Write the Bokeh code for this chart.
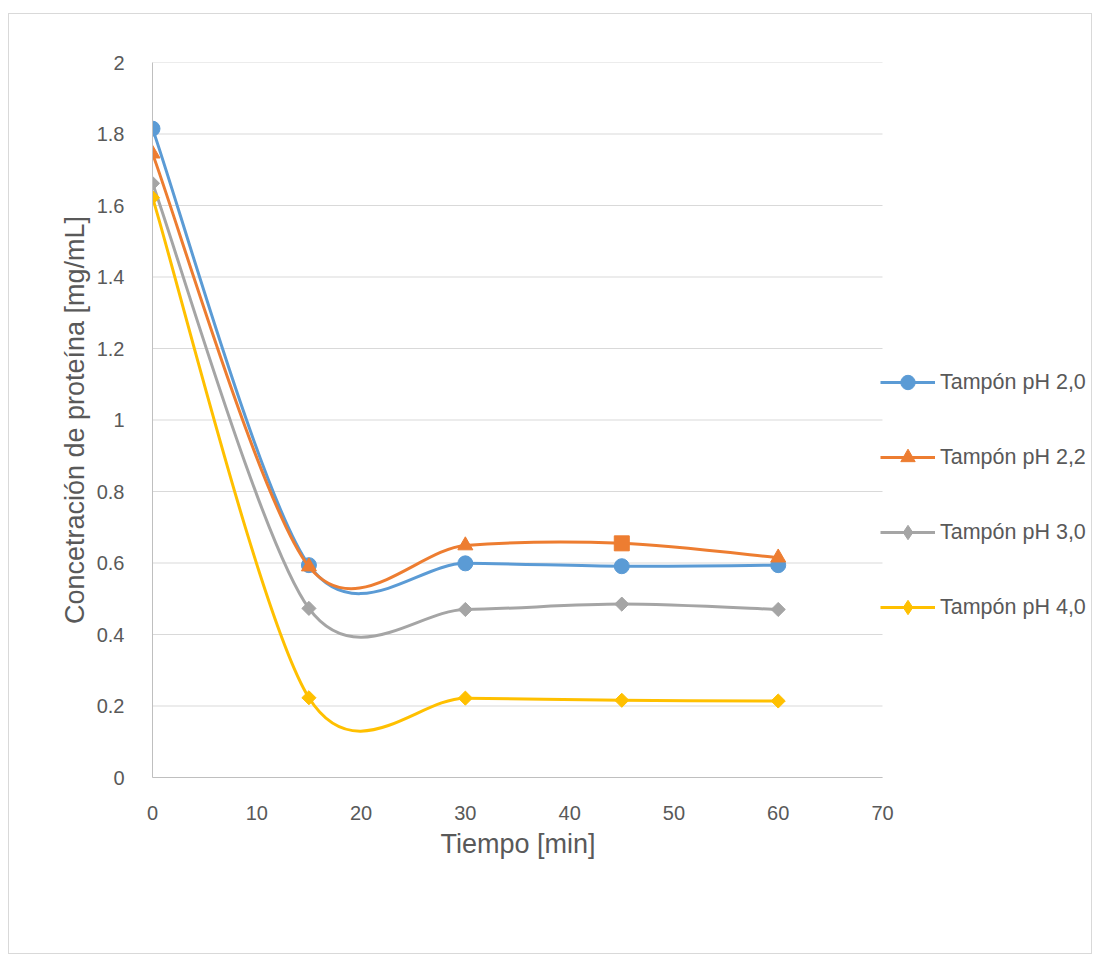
import numpy as np
from bokeh.plotting import figure
from bokeh.models import Range1d, FixedTicker, Legend, LegendItem, Title
from bokeh.embed import file_html
from bokeh.resources import INLINE

# ---- data ----
tiempo = [0, 15, 30, 45, 60]
ph20 = [1.815, 0.594, 0.599, 0.591, 0.594]
ph22 = [1.745, 0.590, 0.649, 0.655, 0.615]
ph30 = [1.662, 0.473, 0.470, 0.485, 0.470]
ph40 = [1.622, 0.223, 0.222, 0.216, 0.214]
series_names = ["Tampón pH 2,0", "Tampón pH 2,2", "Tampón pH 3,0", "Tampón pH 4,0"]
x_ticks = [0, 10, 20, 30, 40, 50, 60, 70]
y_ticks = [0, 0.2, 0.4, 0.6, 0.8, 1.0, 1.2, 1.4, 1.6, 1.8, 2.0]
y_tick_labels = ["0", "0.2", "0.4", "0.6", "0.8", "1", "1.2", "1.4", "1.6", "1.8", "2"]
x_title = "Tiempo [min]"
y_title = "Concetración de proteína [mg/mL]"

# ---- style ----
colors = ["#5B9BD5", "#ED7D31", "#A5A5A5", "#FFC000"]
markers = [
    ["circle"] * 5,
    ["triangle", "triangle", "triangle", "square", "triangle"],
    ["square"] * 5,
    ["square"] * 5,
]
marker_sizes = [15, 15, 10, 10]
marker_angles = [0, 0, np.pi / 4, np.pi / 4]
SMOOTH = 0.15
FONT = "Liberation Sans"
TEXT = "#595959"

# layout in pixels (inside the 1px outer border)
FIG_W, FIG_H = 1084, 941
LEFT, TOP, BOTTOM = 143, 48, 178
AXIS_W = 730                      # width of the 0..70 axis
FRAME_W = FIG_W - LEFT            # plot frame runs to the right edge (legend lives inside it)
x_end = x_ticks[-1] * FRAME_W / AXIS_W
XTITLE_W = 154                    # approx. rendered width of the x title

p = figure(width=FIG_W, height=FIG_H, output_backend="svg", toolbar_location=None,
           x_range=Range1d(0, x_end), y_range=Range1d(0, 2),
           min_border_left=LEFT, min_border_right=0, min_border_top=TOP, min_border_bottom=BOTTOM)
p.styles = {"margin-left": "8px", "margin-top": "13px", "border": "1px solid #d9d9d9"}
p.outline_line_color = None
p.background_fill_color = "white"
p.border_fill_color = "white"

p.xgrid.grid_line_color = None
p.ygrid.grid_line_color = None
# horizontal gridlines only across the 0..70 span
p.segment(x0=[x_ticks[0]] * len(y_ticks), x1=[x_ticks[-1]] * len(y_ticks), y0=y_ticks, y1=y_ticks,
          line_color="#d9d9d9", line_width=1, level="underlay")

p.xaxis.ticker = FixedTicker(ticks=x_ticks)
p.yaxis.ticker = FixedTicker(ticks=y_ticks)
p.xaxis.bounds = (x_ticks[0], x_ticks[-1])
p.yaxis.major_label_overrides = {t: l for t, l in zip(y_ticks, y_tick_labels)}
for ax in (p.xaxis[0], p.yaxis[0]):
    ax.axis_line_color = "#bfbfbf"
    ax.axis_line_width = 1
    ax.major_tick_line_color = None
    ax.minor_tick_line_color = None
    ax.major_label_text_font = FONT
    ax.major_label_text_font_size = "20px"
    ax.major_label_text_color = TEXT
    ax.axis_label_text_font = FONT
    ax.axis_label_text_font_size = "27px"
    ax.axis_label_text_color = TEXT
    ax.axis_label_text_font_style = "normal"
p.yaxis.axis_label = y_title
p.xaxis.major_label_standoff = 22
p.yaxis.major_label_standoff = 22
p.yaxis.axis_label_standoff = 4

# x-axis title placed under the middle of the 0..70 span (frame extends further right for the legend)
xt = Title(text=x_title, align="left", offset=AXIS_W / 2 - XTITLE_W / 2,
           text_font=FONT, text_font_size="27px", text_color=TEXT,
           text_font_style="normal", standoff=9)
p.add_layout(xt, "below")


def smooth_segments(xs, ys, f):
    n = len(xs)
    seg = {k: [] for k in ("x0", "y0", "x1", "y1", "cx0", "cy0", "cx1", "cy1")}
    for i in range(n - 1):
        a = max(i - 1, 0)
        d = min(i + 2, n - 1)
        seg["x0"].append(xs[i]); seg["y0"].append(ys[i])
        seg["x1"].append(xs[i + 1]); seg["y1"].append(ys[i + 1])
        seg["cx0"].append(xs[i] + (xs[i + 1] - xs[a]) * f)
        seg["cy0"].append(ys[i] + (ys[i + 1] - ys[a]) * f)
        seg["cx1"].append(xs[i + 1] - (xs[d] - xs[i]) * f)
        seg["cy1"].append(ys[i + 1] - (ys[d] - ys[i]) * f)
    return seg


items = []
for name, ys, col, mk, ms, ang in zip(series_names, [ph20, ph22, ph30, ph40], colors,
                                      markers, marker_sizes, marker_angles):
    s = smooth_segments(tiempo, ys, SMOOTH)
    r1 = p.bezier(x0=s["x0"], y0=s["y0"], x1=s["x1"], y1=s["y1"],
                  cx0=s["cx0"], cy0=s["cy0"], cx1=s["cx1"], cy1=s["cy1"],
                  line_color=col, line_width=3)
    if ang:
        # diamond under the rotated square: gives the legend a diamond symbol
        lg = p.scatter(x=tiempo, y=ys, marker="diamond", size=12, fill_color=col, line_color=col)
        p.scatter(x=tiempo, y=ys, marker=mk, size=ms, angle=ang, fill_color=col, line_color=col)
    else:
        lg = p.scatter(x=tiempo, y=ys, marker=mk, size=ms, fill_color=col, line_color=col)
    items.append(LegendItem(label=name, renderers=[r1, lg]))

legend = Legend(items=items, location=(AXIS_W - 2, 152), orientation="vertical")
legend.glyph_width = 55
legend.glyph_height = 36
legend.label_height = 20
legend.spacing = 39
legend.padding = 0
legend.margin = 0
legend.label_standoff = 5
legend.border_line_color = None
legend.background_fill_alpha = 0
legend.label_text_font = FONT
legend.label_text_font_size = "21.5px"
legend.label_text_color = TEXT
p.add_layout(legend, "center")

open("out.html", "w").write(file_html(p, INLINE))
